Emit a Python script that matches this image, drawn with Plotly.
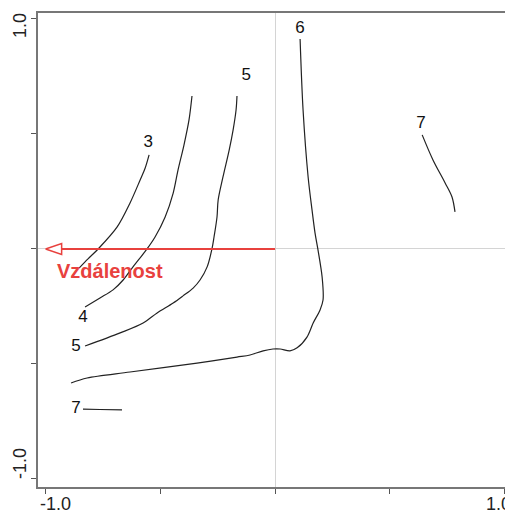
import plotly.graph_objects as go

# contour lines (x, y in axis units)
c3_x = [-0.549, -0.566, -0.588, -0.632, -0.688, -0.771, -0.815, -0.854]
c3_y = [0.409, 0.352, 0.300, 0.200, 0.096, 0.000, -0.043, -0.083]

c4_x = [-0.362, -0.375, -0.397, -0.423, -0.444, -0.479, -0.523, -0.558, -0.619,
        -0.662, -0.706, -0.763, -0.828]
c4_y = [0.665, 0.561, 0.452, 0.343, 0.243, 0.139, 0.052, 0.000, -0.078,
        -0.135, -0.178, -0.213, -0.252]

c5_x = [-0.166, -0.170, -0.183, -0.200, -0.227, -0.248, -0.253, -0.266, -0.275,
        -0.296, -0.327, -0.357, -0.401, -0.444, -0.514, -0.575, -0.675, -0.828]
c5_y = [0.665, 0.604, 0.517, 0.430, 0.313, 0.213, 0.139, 0.052, 0.000,
        -0.078, -0.135, -0.170, -0.204, -0.235, -0.278, -0.322, -0.365, -0.422]

c6_x = [0.109, 0.122, 0.144, 0.161, 0.174, 0.187, 0.205, 0.209, 0.196, 0.166,
        0.139, 0.096, 0.065, 0.022, -0.009, -0.052, -0.109, -0.166, -0.340,
        -0.632, -0.819, -0.889]
c6_y = [0.913, 0.604, 0.313, 0.170, 0.070, -0.004, -0.122, -0.222, -0.265, -0.322,
        -0.383, -0.430, -0.443, -0.435, -0.435, -0.443, -0.461, -0.470, -0.496,
        -0.535, -0.561, -0.583]

c7a_x = [0.641, 0.688, 0.741, 0.771, 0.784]
c7a_y = [0.496, 0.387, 0.287, 0.226, 0.161]

c7b_x = [-0.837, -0.763, -0.667]
c7b_y = [-0.696, -0.698, -0.700]

contours = [(c3_x, c3_y), (c4_x, c4_y), (c5_x, c5_y), (c6_x, c6_y),
            (c7a_x, c7a_y), (c7b_x, c7b_y)]

# contour labels
lab_text = ["3", "4", "5", "5", "6", "7", "7"]
lab_x = [-0.553, -0.837, -0.126, -0.867, 0.109, 0.636, -0.867]
lab_y = [0.461, -0.300, 0.752, -0.426, 0.957, 0.543, -0.696]

# environmental vector
arrow_name = "Vzdálenost"
arrow_x = -1.0
arrow_y = 0.0

# axis ticks; only the end ticks carry a label
tick_vals = [-1, -0.5, 0, 0.5, 1]
end_ticks = [-1.0, 1.0]
end_labels = ["-1.0", "1.0"]

RED = "#e8413e"
FONT = "Arial, Liberation Sans, sans-serif"

fig = go.Figure()

for cx, cy in contours:
    fig.add_trace(go.Scatter(
        x=cx, y=cy, mode="lines",
        line=dict(color="#222222", width=1.2, shape="spline", smoothing=0.9),
        hoverinfo="skip"))

fig.add_trace(go.Scatter(
    x=lab_x, y=lab_y, mode="text", text=lab_text,
    textfont=dict(family=FONT, size=17, color="#111111"),
    hoverinfo="skip"))

# arrow shaft + open head
head_len = 0.07
head_half = 0.024
fig.add_trace(go.Scatter(
    x=[0, arrow_x + head_len], y=[0, arrow_y], mode="lines",
    line=dict(color=RED, width=2), hoverinfo="skip"))
fig.add_trace(go.Scatter(
    x=[arrow_x, arrow_x + head_len, arrow_x + head_len, arrow_x],
    y=[arrow_y, arrow_y + head_half, arrow_y - head_half, arrow_y],
    mode="lines", fill="toself", fillcolor="white",
    line=dict(color=RED, width=1.5), hoverinfo="skip"))

fig.add_annotation(
    x=arrow_x + 0.041, y=arrow_y - 0.096, text="<b>" + arrow_name + "</b>",
    showarrow=False, xanchor="left", yanchor="middle",
    font=dict(family=FONT, size=20, color=RED))

# end tick labels, nudged inwards like the R original
tick_font = dict(family=FONT, size=18, color="#222222")
x_shift = [10, -6]
y_shift = [15, -7]
for v, t, xs, ys in zip(end_ticks, end_labels, x_shift, y_shift):
    fig.add_annotation(x=v, xref="x", y=0, yref="paper", text=t, showarrow=False,
                       xanchor="center", yanchor="middle", xshift=xs, yshift=-17,
                       font=tick_font)
    fig.add_annotation(x=0, xref="paper", y=v, yref="y", text=t, showarrow=False,
                       textangle=-90, xanchor="center", yanchor="middle",
                       xshift=-18, yshift=ys, font=tick_font)

axis_style = dict(
    showgrid=False, zeroline=True, zerolinecolor="#d4d4d4", zerolinewidth=1,
    showline=True, linecolor="#777777", linewidth=1.5, mirror=True,
    ticks="outside", ticklen=5, tickcolor="#555555", tickwidth=1,
    tickvals=tick_vals, showticklabels=False,
    automargin=False,
)

fig.update_xaxes(range=[-1.033, 1.028], **axis_style)
fig.update_yaxes(range=[-1.035, 1.026], **axis_style)

# page body adds an 8px offset, so the figure is sized to fit inside the window
fig.update_layout(
    width=505, height=505,
    margin=dict(l=30, r=2, t=5, b=26),
    plot_bgcolor="white", paper_bgcolor="white",
    showlegend=False,
)

fig.write_html("out.html")
